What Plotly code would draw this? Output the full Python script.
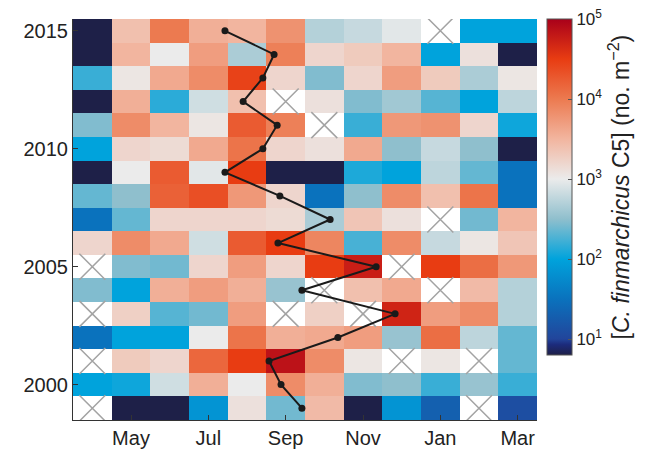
import plotly.graph_objects as go

months = ["Apr", "May", "Jun", "Jul", "Aug", "Sep", "Oct", "Nov", "Dec", "Jan", "Feb", "Mar"]
years = list(range(1999, 2016))

# log10 abundance (no. m^-2); None = no sample
log_abund = [
    [None, 0.8, 0.8, 1.85, 3.1, 2.4, 3.45, 0.8, 1.85, 1.3, None, 1.1],      # 1999
    [2.0, 2.05, 2.85, 3.55, 3.0, 3.85, 3.55, 2.45, 2.5, 2.2, 2.55, 2.2],    # 2000
    [None, 3.3, 3.2, 4.15, 4.5, 4.85, 3.85, 3.05, None, 3.05, None, 2.35],  # 2001
    [1.5, 2.0, 2.0, 3.0, 4.05, 3.55, 3.6, 3.7, 2.55, 4.1, 2.75, 2.35],      # 2002
    [None, 3.25, 2.3, 2.4, 3.7, None, 3.25, None, 4.7, 3.7, 3.85, 2.7],     # 2003
    [2.45, 2.0, 3.55, 3.7, 3.55, 2.55, None, 3.4, 3.6, None, 3.45, 2.7],    # 2004
    [None, 2.45, 2.4, 3.2, 3.7, 3.2, 4.5, 4.75, None, 4.5, 4.1, 3.75],      # 2005
    [3.2, 3.85, 3.6, 2.85, 4.25, 4.5, 3.9, 2.25, 3.85, 2.8, 3.05, 3.35],    # 2006
    [1.5, 2.35, 3.2, 3.2, 3.2, 3.15, 2.65, 3.35, 3.1, None, 2.4, 3.5],      # 2007
    [2.35, 2.5, 4.2, 4.35, 3.75, 3.2, 1.5, 2.5, 3.85, 3.4, 4.05, 1.5],      # 2008
    [0.8, 3.0, 4.25, 2.95, 4.5, 0.8, 0.8, 2.1, 2.0, 2.75, 2.35, 1.5],       # 2009
    [2.0, 3.2, 3.15, 3.6, 4.05, 3.2, 3.1, 3.6, 2.5, 2.8, 2.5, 0.8],         # 2010
    [2.45, 3.85, 3.5, 3.05, 4.25, 3.95, None, 2.2, 3.75, 3.8, 3.2, 2.05],   # 2011
    [0.8, 3.55, 2.15, 2.85, 3.4, None, 3.1, 2.45, 2.6, 2.3, 2.0, 2.75],     # 2012
    [2.2, 3.05, 3.6, 3.85, 4.45, 3.2, 2.45, 3.2, 3.7, 3.3, 2.65, 3.05],     # 2013
    [0.8, 3.5, 3.0, 3.7, 2.65, 3.95, 3.2, 3.3, 3.5, 2.0, 3.1, 0.8],         # 2014
    [0.8, 3.4, 4.0, 3.55, 3.5, 3.8, 2.7, 2.8, 2.95, None, 2.0, 2.0],        # 2015
]

# timing of peak (month index, Apr = 0)
peak_month = [5.42, 4.88, 4.57, 6.35, 7.83, 5.42, 7.34, 4.80, 6.15,
              4.85, 3.43, 4.41, 4.78, 3.90, 4.41, 4.70, 3.43]

tick_months = ["May", "Jul", "Sep", "Nov", "Jan", "Mar"]
cbar_exponents = [1, 2, 3, 4, 5]

zmin, zmax = 0.8, 5.0
def pos(v):
    return (v - zmin) / (zmax - zmin)

colorscale = [
    [0.0, "#1e2048"],
    [pos(0.93), "#1c2b7c"],
    [pos(1.0), "#22459b"],
    [pos(1.5), "#0a72bd"],
    [pos(2.0), "#00a3dc"],
    [pos(2.5), "#8fbfcd"],
    [pos(3.0), "#ebebeb"],
    [pos(3.5), "#f2b59f"],
    [pos(4.0), "#ec7a50"],
    [pos(4.5), "#e83c12"],
    [1.0, "#a9001a"],
]

month_idx = list(range(len(months)))
miss_x, miss_y = [], []
for yi, row in enumerate(log_abund):
    for mi, v in enumerate(row):
        if v is None:
            miss_x.append(mi)
            miss_y.append(years[yi])

fig = go.Figure()
fig.add_trace(go.Heatmap(
    z=log_abund, x=month_idx, y=years,
    colorscale=colorscale, zmin=zmin, zmax=zmax,
    xgap=0, ygap=0, hoverongaps=False,
    colorbar=dict(
        x=1.022, xanchor="left", xpad=0, y=0.162, yanchor="bottom", ypad=0,
        len=0.837, lenmode="fraction", thickness=25, thicknessmode="pixels",
        outlinewidth=1, outlinecolor="#555",
        tickvals=cbar_exponents,
        ticktext=[f"10<sup>{e}</sup>" for e in cbar_exponents],
        ticks="inside", ticklen=4, tickcolor="#555",
        ticklabeloverflow="allow",
        tickfont=dict(size=17, color="#222"),
        title=dict(text="[<i>C. finmarchicus</i> C5] (no. m<sup>−2</sup>)",
                   side="right", font=dict(size=23, color="#222")),
    ),
))
fig.add_trace(go.Scatter(
    x=miss_x, y=miss_y, mode="markers",
    marker=dict(symbol="x-thin-open", size=26, color="#a3a3a3",
                line=dict(color="#a3a3a3", width=1.5)),
    showlegend=False, hoverinfo="skip",
))
fig.add_trace(go.Scatter(
    x=peak_month, y=years, mode="lines+markers",
    line=dict(color="#1a1a1a", width=2),
    marker=dict(color="#1a1a1a", size=7),
    showlegend=False,
))

# page body has an 8px default margin: the figure is sized/offset to compensate
fig.update_layout(
    width=641, height=441,
    margin=dict(l=65, r=112, t=11, b=29, autoexpand=False),
    paper_bgcolor="white", plot_bgcolor="white",
    font=dict(family="Liberation Sans, Arial, sans-serif", size=20, color="#222"),
    xaxis=dict(range=[-0.5, 11.5], tickvals=[1, 3, 5, 7, 9, 11], ticktext=tick_months,
               ticks="inside", ticklen=5, tickcolor="#333", showline=True,
               linecolor="#333", linewidth=1, showgrid=False, zeroline=False,
               mirror=False, automargin=False),
    yaxis=dict(range=[1998.5, 2015.5], tickvals=[2000, 2005, 2010, 2015],
               ticks="inside", ticklen=5, tickcolor="#333", showline=True,
               linecolor="#333", linewidth=1, showgrid=False, zeroline=False,
               automargin=False),
)

fig.write_html("out.html")
